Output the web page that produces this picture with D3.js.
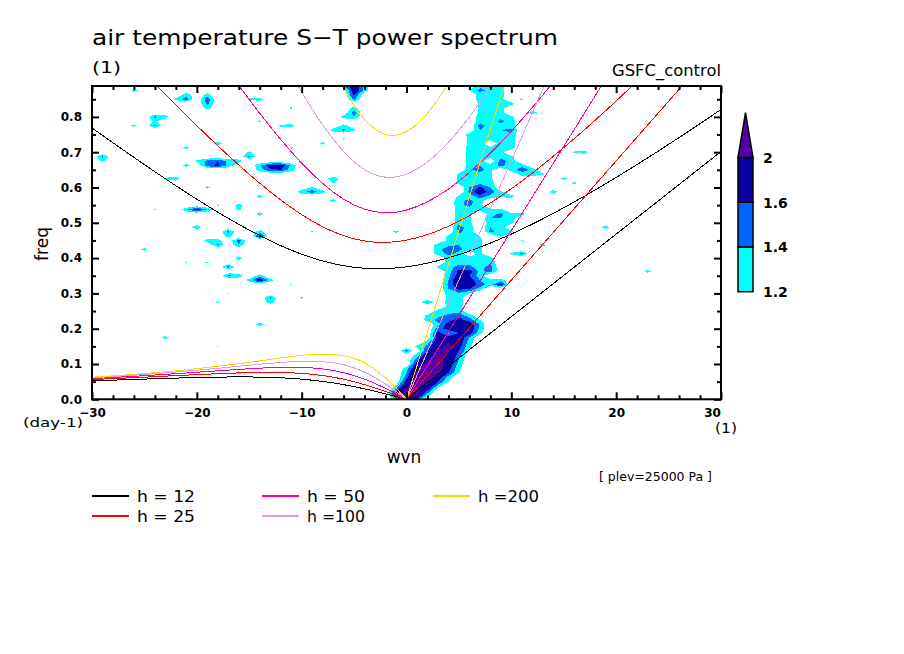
<!DOCTYPE html>
<html>
<head>
<meta charset="utf-8">
<script src="https://cdn.jsdelivr.net/npm/d3@7"></script>
<style>
  body { margin: 0; background: #fff; }
  svg text { font-family: "DejaVu Sans", sans-serif; fill: #000; }
</style>
</head>
<body>
<div id="chart"></div>
<script>
// Axis ranges and ticks
const wvnMin = -30, wvnMax = 30;
const freqMax = 0.8875, freqStep = 0.0125;
const wvnTicks = [-30, -20, -10, 0, 10, 20, 30];
const wvnMinorTicks = [-28, -26, -24, -22, -18, -16, -14, -12, -8, -6, -4, -2, 2, 4, 6, 8, 12, 14, 16, 18, 22, 24, 26, 28];
const freqTicks = [0, 0.1, 0.2, 0.3, 0.4, 0.5, 0.6, 0.7, 0.8];
const freqMinorTicks = [0.05, 0.15, 0.25, 0.35, 0.45, 0.55, 0.65, 0.75, 0.85];

// Shading levels of the normalised power
const levels = [1.2, 1.4, 1.6, 2.0];
const levelColors = ['#00ffff', '#0064ff', '#0a00a5', '#5500a5'];
const backgroundLevel = 1.0;

// Power above background: [wvn, freq index (x0.0125), value]
// the diagonal band (Kelvin waves)
const bandCells = [
  [0,0,1.9],[1,0,1.5],[-1,0,1.3],
  [-1,1,1.8],[0,1,2.3],[1,1,2.0],[2,1,1.3],
  [-1,2,1.5],[0,2,2.2],[1,2,2.2],[2,2,1.6],
  [-1,3,1.25],[0,3,1.9],[1,3,2.3],[2,3,1.9],[3,3,1.3],
  [0,4,1.7],[1,4,2.3],[2,4,2.2],[3,4,1.6],[4,4,1.2],
  [0,5,1.5],[1,5,2.2],[2,5,2.3],[3,5,1.8],[4,5,1.3],
  [0,6,1.4],[1,6,2.1],[2,6,2.4],[3,6,2.1],[4,6,1.6],[5,6,1.2],
  [0,7,1.3],[1,7,1.9],[2,7,2.3],[3,7,2.2],[4,7,1.7],[5,7,1.25],
  [1,8,1.7],[2,8,2.2],[3,8,2.2],[4,8,1.8],[5,8,1.3],
  [1,9,1.5],[2,9,2.0],[3,9,2.1],[4,9,1.9],[5,9,1.4],
  [1,10,1.3],[2,10,1.8],[3,10,2.1],[4,10,1.9],[5,10,1.5],
  [0,11,1.5],[2,11,1.6],[3,11,2.0],[4,11,2.0],[5,11,1.6],[6,11,1.2],
  [1,12,1.25],[2,12,1.45],[3,12,1.9],[4,12,2.1],[5,12,1.7],[6,12,1.25],
  [2,13,1.3],[3,13,1.8],[4,13,2.0],[5,13,1.8],[6,13,1.3],
  [3,14,1.7],[4,14,1.7],[5,14,1.8],[6,14,1.4],
  [3,15,1.7],[4,15,1.35],[5,15,1.6],[6,15,1.7],[7,15,1.25],
  [3,16,1.5],[4,16,1.7],[5,16,1.9],[6,16,1.8],[7,16,1.35],
  [3,17,1.35],[4,17,1.7],[5,17,1.9],[6,17,1.75],[7,17,1.35],
  [2,18,1.3],[3,18,1.45],[4,18,1.5],[5,18,1.7],[6,18,1.5],[7,18,1.2],
  [2,19,1.25],[3,19,1.35],[4,19,1.45],[5,19,1.5],[6,19,1.3],
  [3,20,1.3],[4,20,1.3],[5,20,1.35],
  [4,21,1.25],[5,21,1.3],
  [2,22,1.45],[4,22,1.3],[5,22,1.35],
  [4,23,1.25],[5,23,1.3],
  [4,24,1.3],[5,24,1.35],[6,24,1.2],
  [4,25,1.4],[5,25,1.65],[6,25,1.6],[7,25,1.3],
  [4,26,1.45],[5,26,1.8],[6,26,1.8],[7,26,1.5],[8,26,1.3],[9,26,1.7],
  [4,27,1.4],[5,27,1.85],[6,27,1.75],[7,27,1.4],[8,27,1.25],[9,27,1.3],
  [4,28,1.35],[5,28,1.7],[6,28,1.6],[7,28,1.3],
  [4,29,1.3],[5,29,1.65],[6,29,1.7],[7,29,1.35],[8,29,1.5],
  [3,30,1.25],[4,30,1.3],[5,30,1.5],[6,30,1.45],[7,30,1.3],[8,30,1.5],
  [4,31,1.3],[5,31,1.3],[6,31,1.35],[7,31,1.3],[8,31,1.35],
  [4,32,1.3],[5,32,1.25],[6,32,1.3],[7,32,1.3],[8,32,1.3],
  [3,33,1.3],[4,33,1.45],[5,33,1.35],[7,33,1.25],
  [3,34,1.35],[4,34,1.5],[5,34,1.45],[6,34,1.3],[7,34,1.25],
  [3,35,1.3],[4,35,1.35],[5,35,1.4],[6,35,1.3],[7,35,1.25],
  [4,36,1.25],[5,36,1.35],[6,36,1.3],[7,36,1.25],
  [4,37,1.25],[5,37,1.35],[6,37,1.3],[7,37,1.2],[9,37,1.25],
  [5,38,1.45],[6,38,1.3],[8,38,1.45],[9,38,1.3],[10,38,1.25],
  [5,39,1.5],[6,39,1.3],[8,39,1.4],[9,39,1.3],
  [5,40,1.3],[6,40,1.25],[8,40,1.35],[9,40,1.35],[10,40,1.25],
  [5,41,1.3],[6,41,1.25],[8,41,1.4],[9,41,1.4],[10,41,1.3],
  [5,42,1.3],[6,42,1.25],[8,42,1.3],[9,42,1.45],[10,42,1.25],
  [5,43,1.3],[6,43,1.3],[7,43,1.25],[8,43,1.25],[9,43,1.25],
  [5,44,1.35],[6,44,1.45],[7,44,1.25],
  [5,45,1.35],[6,45,1.45],[7,45,1.3],
  [5,46,1.25],[6,46,1.3],[7,46,1.5],[8,46,1.35],[9,46,1.25],
  [6,47,1.45],[7,47,1.8],[8,47,1.5],[9,47,1.25],
  [6,48,1.4],[7,48,1.65],[8,48,1.4],
  [5,49,1.25],[6,49,1.3],[7,49,1.35],[8,49,1.3],
  [5,50,1.25],[6,50,1.3],[7,50,1.3],[8,50,1.25],
  [5,51,1.25],[6,51,1.35],[7,51,1.3],[8,51,1.25],
  [6,52,1.35],[7,52,1.5],[8,52,1.25],
  [6,53,1.3],[7,53,1.4],[8,53,1.3],[9,53,1.45],[10,53,1.3],
  [6,54,1.3],[7,54,1.3],[9,54,1.5],[10,54,1.3],
  [6,55,1.3],[7,55,1.3],[8,55,1.3],[9,55,1.3],[10,55,1.25],
  [6,56,1.3],[7,56,1.25],[8,56,1.25],[9,56,1.25],
  [6,57,1.3],[7,57,1.25],[8,57,1.25],[9,57,1.3],[10,57,1.3],
  [6,58,1.25],[7,58,1.3],[9,58,1.3],[10,58,1.3],
  [6,59,1.25],[7,59,1.25],[8,59,1.3],[9,59,1.3],[10,59,1.3],
  [6,60,1.3],[7,60,1.35],[8,60,1.3],[9,60,1.3],[10,60,1.35],
  [7,61,1.4],[8,61,1.3],[9,61,1.4],[10,61,1.45],
  [7,62,1.5],[8,62,1.3],[9,62,1.35],[10,62,1.3],
  [7,63,1.3],[8,63,1.3],[9,63,1.45],[10,63,1.3],
  [7,64,1.3],[8,64,1.3],[9,64,1.35],[10,64,1.25],
  [7,65,1.25],[8,65,1.3],[9,65,1.3],
  [7,66,1.25],[8,66,1.3],[9,66,1.3],
  [7,67,1.25],[8,67,1.3],[9,67,1.25],[10,67,1.3],
  [7,68,1.3],[8,68,1.3],[9,68,1.25],[11,68,1.25],
  [7,69,1.3],[8,69,1.35],[9,69,1.3],
  [6,70,1.2],[7,70,1.45],[8,70,1.35],[9,70,1.3],
  [7,71,1.35],[8,71,1.3],[9,71,1.25]
];

// scattered patches away from the band
const patchCells = [
  [10,52,1.3],[11,52,1.5],[11,53,1.35],[12,52,1.35],[12,51,1.3],[13,51,1.25],[11,51,1.3],
  [12,65,1.35],[14,71,1.3],[13,68,1.22],[16,56,1.25],[17,56,1.3],[15,50,1.3],[16,49,1.28],
  [14,47,1.35],[10,46,1.3],[11,42,1.28],[19,39,1.33],[26,59,1.22],[20,67,1.2],[24,70,1.2],
  [11,36,1.22],[11,33,1.45],[10,33,1.25],[13,35,1.3],[23,29,1.3],[27,1,1.22],
  [-5,71,1.9],[-5,70,1.85],[-5,69,1.65],[-5,68,1.45],[-4,70,1.3],[-6,71,1.3],[-4,71,1.3],
  [-5,66,1.3],[-5,65,1.5],[-5,64,1.4],[-6,64,1.3],
  [-6,62,1.3],[-6,61,1.45],[-7,61,1.3],[-5,61,1.25],
  [-8,58,1.28],[-6,59,1.25],[0,54,1.22],[-7,50,1.4],[-7,49,1.22],
  [-9,47,1.5],[-10,47,1.35],[-8,47,1.3],[-9,48,1.25],
  [-7,45,1.3],[-5,40,1.22],[-1,38,1.28],[-9,38,1.22],[-5,24,1.2],
  [-26,70,1.3],
  [-21,69,1.35],[-21,68,1.5],[-22,68,1.25],
  [-19,69,1.3],[-19,68,1.55],[-19,67,1.45],[-19,66,1.3],
  [-17,66,1.22],[-11,66,1.25],[-14,68,1.3],[-15,68,1.25],
  [-24,64,1.45],[-23,64,1.3],[-24,62,1.45],[-24,63,1.25],[-26,62,1.28],
  [-14,63,1.25],[-11,62,1.3],[-12,62,1.25],
  [-18,58,1.35],[-21,57,1.3],[-26,57,1.22],[-23,59,1.21],
  [-15,55,1.45],[-15,56,1.25],
  [-19,54,1.45],[-18,54,1.6],[-19,53,1.5],[-18,53,1.65],[-17,54,1.35],[-17,53,1.35],[-16,54,1.3],[-20,54,1.25],
  [-13,53,1.7],[-12,53,1.75],[-13,52,1.55],[-12,52,1.6],[-14,53,1.35],[-11,53,1.35],[-14,52,1.3],[-11,52,1.3],
  [-29,55,1.45],[-29,54,1.25],[-21,53,1.3],[-22,50,1.35],[-23,50,1.25],
  [-25,49,1.22],[-19,48,1.27],[-17,47,1.2],[-14,46,1.3],
  [-20,43,1.7],[-21,43,1.35],[-19,43,1.35],[-18,44,1.25],[-16,44,1.3],[-16,43,1.25],
  [-14,42,1.32],[-29,47,1.22],[-24,43,1.22],[-20,39,1.4],
  [-17,38,1.45],[-17,37,1.3],[-16,36,1.5],[-16,35,1.4],
  [-14,37,1.7],[-14,38,1.3],[-19,36,1.3],[-18,36,1.3],[-18,35,1.45],[-11,57,1.25],
  [-25,34,1.3],[-26,33,1.2],[-25,31,1.2],[-21,31,1.22],[-19,31,1.25],[-16,32,1.33],
  [-17,30,1.5],[-17,28,1.45],[-16,28,1.35],
  [-14,27,1.8],[-14,28,1.3],[-15,27,1.3],[-13,27,1.3],
  [-11,26,1.22],[-17,24,1.22],[-13,23,1.45],[-13,22,1.3],[-18,22,1.25],[-10,23,1.25],
  [-14,17,1.32],[-24,15,1.22],[-23,14,1.3],[-18,12,1.22],[-16,6,1.3],[-18,1,1.22]
];

// Equivalent depths of the dispersion curves
const depths = [12, 25, 50, 100, 200];
const depthLabels = ['h = 12', 'h = 25', 'h = 50', 'h =100', 'h =200'];
const depthColors = ['#000000', '#ff0000', '#ff00a0', '#dda0dd', '#ffd700'];

// Kelvin wave frequency at wvn 30
const kelvinFreq30 = [0.702, 1.013, 1.433, 2.027, 2.867];

// n=1 inertia-gravity curves
const igStart = [-30, -26, -18, -11, -7];
const igStep = [2, 2, 2, 1, 1];
const igFreq = [
  [0.7687,0.7266,0.6852,0.6446,0.6050,0.5667,0.5301,0.4956,0.4638,0.4353,0.4110,0.3918,0.3784,0.3712,0.3703,0.3753,0.3857,0.4008,0.4199,0.4425,0.4681,0.4963,0.5267,0.5591,0.5931,0.6285,0.6651,0.7028,0.7414,0.7808,0.8209],
  [0.9553,0.8941,0.8339,0.7751,0.7182,0.6636,0.6121,0.5648,0.5232,0.4887,0.4634,0.4485,0.4444,0.4509,0.4665,0.4901,0.5203,0.5561,0.5965,0.6407,0.6882,0.7383,0.7907,0.8450,0.9009,0.9582],
  [0.9711,0.8889,0.8101,0.7362,0.6690,0.6115,0.5669,0.5386,0.5285,0.5362,0.5595,0.5957,0.6424,0.6974,0.7592,0.8265,0.8982,0.9736],
  [0.9219,0.8706,0.8224,0.7776,0.7372,0.7020,0.6729,0.6508,0.6361,0.6292,0.6299,0.6378,0.6522,0.6725,0.6980,0.7281,0.7622,0.7998,0.8406,0.8842,0.9301],
  [0.9415,0.8828,0.8327,0.7930,0.7651,0.7501,0.7481,0.7583,0.7795,0.8104,0.8496,0.8961,0.9486]
];

// n=1 equatorial Rossby curves
const rossbyWvn = [-30, -28, -26, -24, -22, -20, -18, -16, -14, -12, -10, -8, -6, -4, -2, 0];
const rossbyFreq = [
  [0.05224,0.05424,0.05625,0.05822,0.06008,0.0617,0.0629,0.06344,0.06296,0.06101,0.05709,0.0507,0.0415,0.02955,0.01539,0],
  [0.05595,0.05855,0.06129,0.06413,0.06703,0.06989,0.07255,0.07475,0.07606,0.07587,0.07332,0.06735,0.05695,0.04166,0.02208,0],
  [0.05873,0.06182,0.06517,0.06877,0.07261,0.07664,0.08074,0.08471,0.08814,0.09034,0.09016,0.08591,0.07547,0.05711,0.03098,0],
  [0.06091,0.06442,0.06828,0.07253,0.0772,0.0823,0.08779,0.09355,0.09927,0.10434,0.10751,0.10653,0.09783,0.07731,0.0433,0],
  [0.06251,0.06634,0.07062,0.0754,0.08077,0.08679,0.09352,0.10095,0.10896,0.11712,0.12434,0.12814,0.12363,0.10308,0.06026,0]
];

const width = 904, height = 654;
const plot = { left: 92, right: 721, top: 86, bottom: 399.3 };

const svg = d3.select('#chart')
  .append('svg')
  .attr('width', width)
  .attr('height', height);

const x = d3.scaleLinear().domain([wvnMin, wvnMax]).range([plot.left, plot.right]);
const y = d3.scaleLinear().domain([0, freqMax]).range([plot.bottom, plot.top]);

svg.append('clipPath').attr('id', 'plot-clip')
  .append('rect')
  .attr('x', plot.left).attr('y', plot.top)
  .attr('width', plot.right - plot.left).attr('height', plot.bottom - plot.top);

// Build the gridded field and shade it with filled contours
const nx = wvnMax - wvnMin + 1;
const ny = Math.round(freqMax / freqStep) + 1;
const grid = new Array(nx * ny).fill(backgroundLevel);
bandCells.concat(patchCells).forEach(([w, j, v]) => { grid[j * nx + (w - wvnMin)] = v; });

const contours = d3.contours().size([nx, ny]).thresholds(levels)(grid);
const gridToPlot = d3.geoTransform({
  point(px, py) { this.stream.point(x(wvnMin + px - 0.5), y((py - 0.5) * freqStep)); }
});
const contourPath = d3.geoPath(gridToPlot);
const fill = d3.scaleOrdinal().domain(levels).range(levelColors);

svg.append('g')
  .attr('clip-path', 'url(#plot-clip)')
  .selectAll('path')
  .data(contours)
  .enter().append('path')
  .attr('d', contourPath)
  .attr('fill', d => fill(d.value))
  .attr('shape-rendering', 'crispEdges');

// Dispersion curves
const curves = svg.append('g').attr('clip-path', 'url(#plot-clip)');
const smoothLine = d3.line().x(d => x(d[0])).y(d => y(d[1])).curve(d3.curveNatural);
const rossbyLine = d3.line().x(d => x(d[0])).y(d => y(d[1])).curve(d3.curveMonotoneX);
const straightLine = d3.line().x(d => x(d[0])).y(d => y(d[1]));

depths.forEach((h, i) => {
  const ig = igFreq[i].map((f, k) => [igStart[i] + k * igStep[i], f]);
  const rossby = rossbyWvn.map((w, k) => [w, rossbyFreq[i][k]]);
  const kelvin = [[0, 0], [wvnMax, kelvinFreq30[i]]];
  [[ig, smoothLine], [rossby, rossbyLine], [kelvin, straightLine]].forEach(([pts, gen]) => {
    curves.append('path')
      .attr('d', gen(pts))
      .attr('fill', 'none')
      .attr('stroke', depthColors[i])
      .attr('stroke-width', 1)
      .attr('shape-rendering', 'crispEdges');
  });
});

// Frame and ticks
function styleAxis(g) {
  g.select('.domain').remove();
  g.selectAll('.tick line').attr('stroke', '#000').attr('stroke-width', 2);
  g.selectAll('text')
    .attr('font-family', '"DejaVu Sans", sans-serif')
    .attr('font-size', 12)
    .attr('font-weight', 'bold')
    .attr('fill', '#000');
}

svg.append('g').attr('transform', `translate(0,${plot.bottom})`)
  .call(d3.axisBottom(x).tickValues(wvnTicks).tickFormat(d3.format('d')).tickSize(-7).tickPadding(9))
  .call(styleAxis)
  .call(g => g.selectAll('.tick text').filter(d => d === wvnMax).attr('dx', -9));
svg.append('g').attr('transform', `translate(0,${plot.bottom})`)
  .call(d3.axisBottom(x).tickValues(wvnMinorTicks).tickFormat('').tickSize(-4))
  .call(styleAxis);
svg.append('g').attr('transform', `translate(0,${plot.top})`)
  .call(d3.axisTop(x).tickValues(wvnTicks).tickFormat('').tickSize(-7))
  .call(styleAxis);
svg.append('g').attr('transform', `translate(0,${plot.top})`)
  .call(d3.axisTop(x).tickValues(wvnMinorTicks).tickFormat('').tickSize(-4))
  .call(styleAxis);
svg.append('g').attr('transform', `translate(${plot.left},0)`)
  .call(d3.axisLeft(y).tickValues(freqTicks).tickFormat(d3.format('.1f')).tickSize(-7).tickPadding(10))
  .call(styleAxis);
svg.append('g').attr('transform', `translate(${plot.left},0)`)
  .call(d3.axisLeft(y).tickValues(freqMinorTicks).tickFormat('').tickSize(-4))
  .call(styleAxis);
svg.append('g').attr('transform', `translate(${plot.right},0)`)
  .call(d3.axisRight(y).tickValues(freqTicks).tickFormat('').tickSize(-7))
  .call(styleAxis);
svg.append('g').attr('transform', `translate(${plot.right},0)`)
  .call(d3.axisRight(y).tickValues(freqMinorTicks).tickFormat('').tickSize(-4))
  .call(styleAxis);

svg.append('rect')
  .attr('x', plot.left).attr('y', plot.top)
  .attr('width', plot.right - plot.left).attr('height', plot.bottom - plot.top)
  .attr('fill', 'none').attr('stroke', '#000').attr('stroke-width', 2);

// Texts
function addText(px, py, str, size, opts = {}) {
  const t = svg.append('text')
    .attr('x', px).attr('y', py)
    .attr('font-size', size)
    .attr('text-anchor', opts.anchor || 'start')
    .attr('font-weight', opts.weight || 'normal')
    .text(str);
  if (opts.length) t.attr('textLength', opts.length).attr('lengthAdjust', 'spacingAndGlyphs');
  if (opts.transform) t.attr('transform', opts.transform);
  return t;
}

addText(92, 45, 'air temperature S\u2212T power spectrum', 22, { length: 466 });
addText(92, 73, '(1)', 16, { length: 29 });
addText(721, 76, 'GSFC_control', 15, { anchor: 'end', length: 109 });
addText(0, 0, 'freq', 17, { anchor: 'middle', transform: 'translate(48,244) rotate(-90)' });
addText(404, 463, 'wvn', 17, { anchor: 'middle' });
addText(23, 427, '(day-1)', 13, { length: 60 });
addText(715, 433, '(1)', 14, { length: 22 });
addText(599, 481, '[ plev=25000 Pa ]', 13, { length: 113 });

// Legend
const legendCols = [92, 262, 433];
const legendRows = [496, 516];
depths.forEach((h, i) => {
  const lx = legendCols[Math.floor(i / 2)];
  const ly = legendRows[i % 2];
  svg.append('line')
    .attr('x1', lx).attr('x2', lx + 37)
    .attr('y1', ly).attr('y2', ly)
    .attr('stroke', depthColors[i]).attr('stroke-width', 2);
  addText(lx + 45, ly + 5.5, depthLabels[i], 15, { length: h === 200 ? 61 : 58 });
});

// Colour bar
const cb = { left: 738, width: 15 };
const cbY = d3.scaleLinear().domain([0, levels.length]).range([291.7, 112.7]);
levels.slice(0, -1).forEach((lv, i) => {
  svg.append('rect')
    .attr('x', cb.left).attr('y', cbY(i + 1))
    .attr('width', cb.width).attr('height', cbY(i) - cbY(i + 1))
    .attr('fill', levelColors[i]).attr('stroke', '#000').attr('stroke-width', 1.5);
});
const topIdx = levels.length - 1;
svg.append('path')
  .attr('d', `M${cb.left},${cbY(topIdx)}L${cb.left + cb.width / 2},${cbY(topIdx + 1)}L${cb.left + cb.width},${cbY(topIdx)}Z`)
  .attr('fill', levelColors[topIdx]).attr('stroke', '#000').attr('stroke-width', 1.5);
levels.forEach((lv, i) => {
  addText(763, cbY(i) + 5.5, String(lv), 14, { weight: 'bold' });
});
</script>
</body>
</html>
